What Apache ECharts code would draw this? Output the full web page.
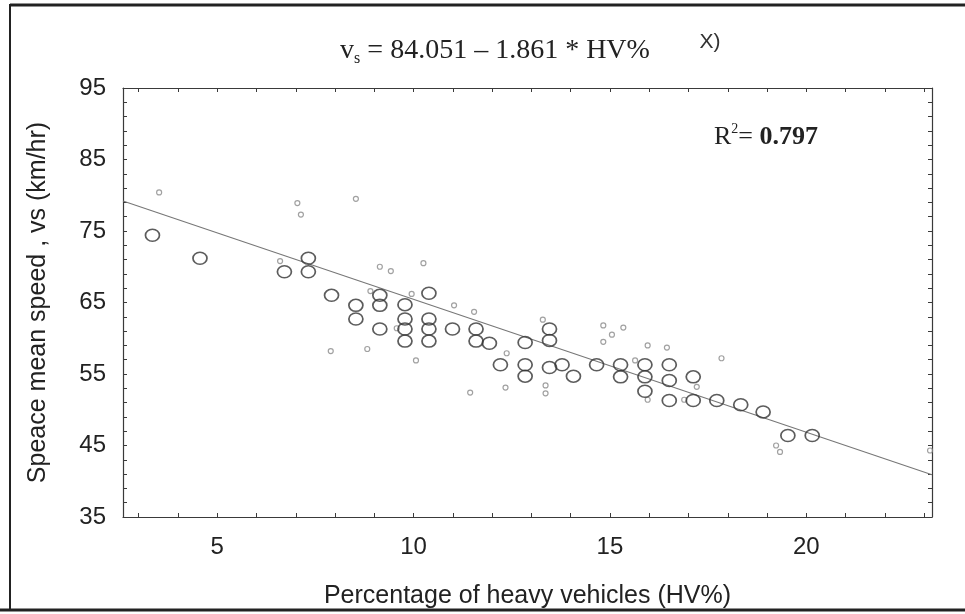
<!DOCTYPE html>
<html><head><meta charset="utf-8">
<script src="https://cdn.jsdelivr.net/npm/echarts@6/dist/echarts.min.js"></script>
<style>html,body{margin:0;padding:0;background:#fff}#c{width:965px;height:614px}</style>
</head><body><div id="c"></div>
<script>
const xTickLabels = [5, 10, 15, 20];
const yTickLabels = [35, 45, 55, 65, 75, 85, 95];
const xTickMarks = [3,4,5,6,7,8,9,10,11,12,13,14,15,16,17,18,19,20,21,22,23];
const yTickMarks = [35,37,39,41,43,45,47,49,51,53,55,57,59,61,63,65,67,69,71,73,75,77,79,81,83,85,87,89,91,93,95];

const largeX = [3.35,4.56,6.71,7.32,7.32,7.91,8.53,8.53,9.14,9.14,9.14,9.78,9.78,9.78,9.78,10.39,10.39,10.39,10.39,10.99,11.59,11.59,11.93,12.21,12.84,12.84,12.84,13.46,13.46,13.46,13.78,14.07,14.66,15.27,15.27,15.89,15.89,15.89,16.51,16.51,16.51,17.12,17.12,17.72,18.33,18.9,19.53,20.15];
const largeY = [74.4,71.2,69.3,71.2,69.3,66.0,64.6,62.7,66.0,64.6,61.3,64.7,62.7,61.3,59.6,66.3,62.7,61.3,59.6,61.3,61.3,59.6,59.3,56.3,59.4,56.3,54.7,61.3,59.7,55.9,56.3,54.7,56.3,56.3,54.6,56.3,54.6,52.6,56.3,54.1,51.3,54.6,51.3,51.3,50.7,49.7,46.4,46.4];

const smallX = [3.52,6.6,7.04,7.13,7.89,8.53,8.82,8.9,9.14,9.42,9.57,9.95,10.06,10.25,11.03,11.44,11.54,12.34,12.37,13.29,13.36,13.36,14.83,14.83,15.05,15.34,15.64,15.96,15.96,16.45,16.89,17.21,17.84,19.23,19.33,23.15];
const smallY = [80.4,70.8,78.9,77.3,58.2,79.5,58.5,66.6,70.0,69.4,61.4,66.2,56.9,70.5,64.6,52.4,63.7,53.1,57.9,62.6,53.4,52.3,61.8,59.5,60.5,61.5,56.9,59.0,51.4,58.7,51.4,53.2,57.2,45.0,44.1,44.3];

const fitLineX = [2.6, 23.2];
const fitLineY = [79.2, 40.9];

const zip = (a, b) => a.map((v, i) => [v, b[i]]);

const axisCol = '#3a3a3a';
const labelFont = {fontFamily: 'Liberation Sans', fontSize: 24, color: '#222'};

const chart = echarts.init(document.getElementById('c'), null, {renderer: 'canvas'});
chart.setOption({
  backgroundColor: '#fff',
  animation: false,
  grid: {left: 123, right: 33, top: 88, bottom: 94, containLabel: false},
  xAxis: [{
    type: 'value', min: 2.6, max: 23.2, position: 'bottom',
    name: 'Percentage of heavy vehicles (HV%)', nameLocation: 'middle', nameGap: 67,
    nameTextStyle: {fontFamily: 'Liberation Sans', fontSize: 25, color: '#222'},
    axisLine: {show: true, lineStyle: {color: axisCol, width: 1.2}},
    axisTick: {show: true, inside: true, length: 4, customValues: xTickMarks, lineStyle: {color: axisCol}},
    axisLabel: Object.assign({customValues: xTickLabels, margin: 18}, labelFont),
    splitLine: {show: false}
  }, {
    type: 'value', min: 2.6, max: 23.2, position: 'top',
    axisLine: {show: true, lineStyle: {color: axisCol, width: 1.2}},
    axisTick: {show: true, inside: true, length: 4, customValues: xTickMarks, lineStyle: {color: axisCol}},
    axisLabel: {show: false}, splitLine: {show: false}
  }],
  yAxis: [{
    type: 'value', min: 35, max: 95, position: 'left',
    name: 'Speace mean speed , vs (km/hr)', nameLocation: 'middle', nameGap: 72, nameRotate: 90,
    nameTextStyle: {fontFamily: 'Liberation Sans', fontSize: 25, color: '#222'},
    axisLine: {show: true, lineStyle: {color: axisCol, width: 1.2}},
    axisTick: {show: true, inside: true, length: 4, customValues: yTickMarks, lineStyle: {color: axisCol}},
    axisLabel: Object.assign({customValues: yTickLabels, margin: 17}, labelFont),
    splitLine: {show: false}
  }, {
    type: 'value', min: 35, max: 95, position: 'right',
    axisLine: {show: true, lineStyle: {color: axisCol, width: 1.2}},
    axisTick: {show: true, inside: true, length: 4, customValues: yTickMarks, lineStyle: {color: axisCol}},
    axisLabel: {show: false}, splitLine: {show: false}
  }],
  series: [{
    type: 'line', xAxisIndex: 0, yAxisIndex: 0,
    data: zip(fitLineX, fitLineY), symbol: 'none',
    lineStyle: {color: '#777', width: 1.1}, z: 2
  }, {
    type: 'scatter', xAxisIndex: 0, yAxisIndex: 0,
    data: zip(smallX, smallY), symbol: 'circle', symbolSize: 5,
    itemStyle: {color: 'rgba(255,255,255,0)', borderColor: '#8a8a8a', borderWidth: 1.2}, z: 3
  }, {
    type: 'scatter', xAxisIndex: 0, yAxisIndex: 0,
    data: zip(largeX, largeY), symbol: 'circle', symbolSize: [14, 12],
    itemStyle: {color: 'rgba(255,255,255,0)', borderColor: '#333', borderWidth: 1.6}, z: 4
  }],
  graphic: [
    {type: 'text', x: 495, y: 51, z: 10, style: {
      text: '{v|v}{s|s}{t| = 84.051 – 1.861 * HV%}', align: 'center', verticalAlign: 'middle',
      rich: {
        v: {fontFamily: 'Liberation Serif', fontSize: 28, lineHeight: 32, verticalAlign: 'middle', fill: '#222'},
        s: {fontFamily: 'Liberation Serif', fontSize: 16, lineHeight: 16, verticalAlign: 'bottom', fill: '#222'},
        t: {fontFamily: 'Liberation Serif', fontSize: 28, lineHeight: 32, verticalAlign: 'middle', fill: '#222'}
      }
    }},
    {type: 'text', x: 710, y: 42, z: 10, style: {
      text: 'X)', align: 'center', verticalAlign: 'middle',
      fontFamily: 'Liberation Sans', fontSize: 21, fill: '#333'
    }},
    {type: 'text', x: 714, y: 137, z: 10, style: {
      text: '{r|R}{p|2}{e|= }{n|0.797}', align: 'left', verticalAlign: 'middle',
      rich: {
        r: {fontFamily: 'Liberation Serif', fontSize: 26, lineHeight: 30, verticalAlign: 'middle', fill: '#222'},
        p: {fontFamily: 'Liberation Serif', fontSize: 14, lineHeight: 14, verticalAlign: 'top', fill: '#222'},
        e: {fontFamily: 'Liberation Serif', fontSize: 26, lineHeight: 30, verticalAlign: 'middle', fill: '#222'},
        n: {fontFamily: 'Liberation Serif', fontSize: 26, fontWeight: 'bold', lineHeight: 30, verticalAlign: 'middle', fill: '#222'}
      }
    }},
    {type: 'line', z: 20, shape: {x1: 10, y1: 5, x2: 965, y2: 5}, style: {stroke: '#222', lineWidth: 3}},
    {type: 'line', z: 20, shape: {x1: 10, y1: 4, x2: 10, y2: 610}, style: {stroke: '#222', lineWidth: 2}},
    {type: 'line', z: 20, shape: {x1: 0, y1: 610, x2: 965, y2: 610}, style: {stroke: '#222', lineWidth: 3}}
  ]
});
</script>
</body></html>
